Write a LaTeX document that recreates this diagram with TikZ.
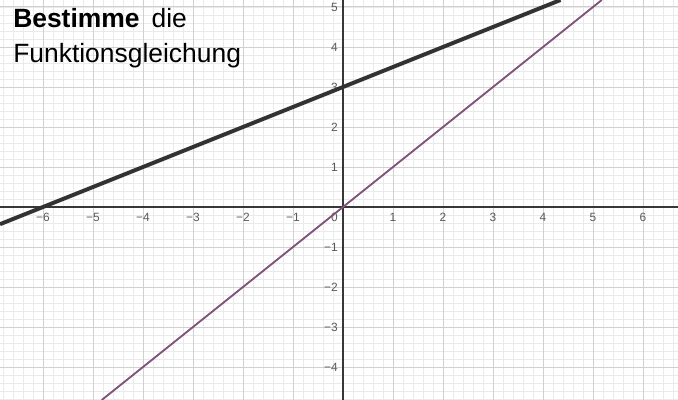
\documentclass[tikz,border=0pt]{standalone}
\usepackage{fontspec}
\setmainfont{Liberation Sans}
\usetikzlibrary{positioning}

\definecolor{minorgrid}{RGB}{234,234,234}
\definecolor{majorgrid}{RGB}{208,208,208}
\definecolor{axisgray}{RGB}{55,55,55}
\definecolor{graphblack}{RGB}{50,50,50}
\definecolor{graphpurple}{RGB}{128,84,122}
\definecolor{tickgray}{RGB}{90,90,90}

\begin{document}
\begin{tikzpicture}[
    x=1.25cm,
    y=1cm,
    minor/.style={
        draw=minorgrid,
        line width=0.45pt
    },
    major/.style={
        draw=majorgrid,
        line width=0.7pt
    },
    axis/.style={
        draw=axisgray,
        line width=1.3pt
    },
    ticklabel/.style={
        text=tickgray,
        inner sep=0pt,
        font=\fontsize{8.5}{8.5}\selectfont
    },
    title/.style={
        inner sep=0pt,
        anchor=base west,
        font=\fontsize{18.8}{22}\selectfont
    }
]

\useasboundingbox (-6.86,-4.825) rectangle (6.70,5.175);
\clip (-6.86,-4.825) rectangle (6.70,5.175);

% grid
\foreach \i in {-34,...,33}
    \draw[minor] (\i/5,-4.825) -- (\i/5,5.175);
\foreach \j in {-24,...,25}
    \draw[minor] (-6.86,\j/5) -- (6.70,\j/5);
\foreach \i in {-6,...,6}
    \draw[major] (\i,-4.825) -- (\i,5.175);
\foreach \j in {-4,...,5}
    \draw[major] (-6.86,\j) -- (6.70,\j);

% axes
\draw[axis] (-6.86,0) -- (6.70,0);
\draw[axis] (0,-4.825) -- (0,5.175);

% tick labels
\foreach \i in {1,...,6} {
    \node[ticklabel, anchor=north, yshift=-4pt] (xp\i) at (\i,0) {\i};
    \node[ticklabel, anchor=north, yshift=-4pt] (xm\i) at (-\i,0) {−\i};
}
\foreach \j in {1,...,5}
    \node[ticklabel, anchor=east, xshift=-3.5pt] (yp\j) at (0,\j) {\j};
\foreach \j in {1,...,4}
    \node[ticklabel, anchor=east, xshift=-3.5pt] (ym\j) at (0,-\j) {−\j};
\node[ticklabel, anchor=north east, xshift=-3.5pt, yshift=-4pt] (origin) at (0,0) {0};

% graphs
\draw[graphblack, line width=2.8pt] (-6.86,-0.43) -- (4.35,5.175);
\draw[graphpurple, line width=1.3pt] (-4.825,-4.825) -- (5.175,5.175);

% task
\node[title] (task) at (-6.6,4.475) {\textbf{Bestimme}\hspace{0.3cm}die};
\node[title] (task2) at ([yshift=-0.875cm]task.base west) {Funktionsgleichung};

\end{tikzpicture}
\end{document}
